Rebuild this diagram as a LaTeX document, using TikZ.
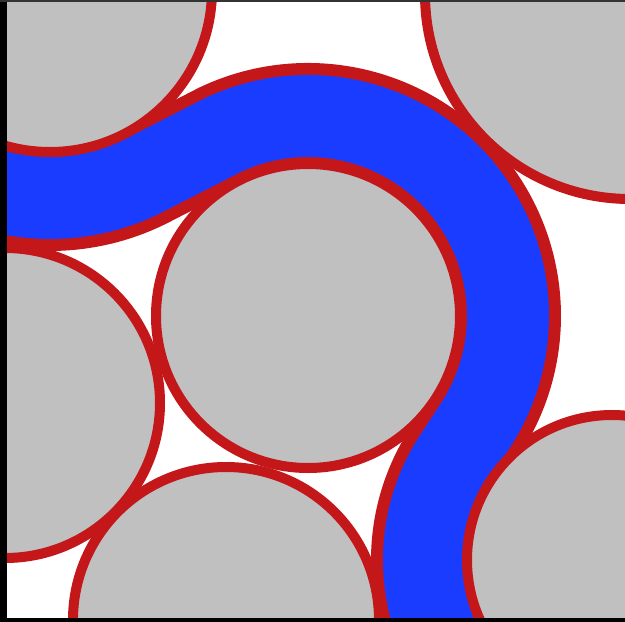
\documentclass[tikz,border=0pt]{standalone}
\usepackage{tikz}
\usetikzlibrary{calc}
\definecolor{grain}{HTML}{C0C0C0}
\definecolor{rim}{HTML}{C4171A}
\definecolor{flow}{HTML}{1A3CFF}
\begin{document}
\begin{tikzpicture}[x=1pt,y=-1pt,grain/.style={fill=grain,draw=rim,line width=10pt},channel/.style={draw=rim,double=flow,double distance=82pt,line width=12pt}]
\useasboundingbox (0,0) rectangle (625,622);
\clip (0,0) rectangle (625,622);
\fill[white] (0,0) rectangle (625,622);
\coordinate (tl) at (50,-10);
\coordinate (mid) at (308,316);
\coordinate (lft) at (5,403);
\coordinate (bot) at (226,620);
\coordinate (tr) at (630,-6);
\coordinate (br) at (612,560);
\coordinate (t2) at ($(mid)+(244.65:200)$);
\coordinate (t4) at ($(br)+(213.25:188)$);
\draw[channel] (tl) ++(112:208) arc[start angle=112,end angle=62.7,radius=208] -- (t2) arc[start angle=244.65,end angle=393.25,radius=200] -- (t4) arc[start angle=213.25,end angle=150,radius=188];
\draw[grain] (tl) circle[radius=162];
\draw[grain] (mid) circle[radius=152];
\draw[grain] (lft) circle[radius=155];
\draw[grain] (bot) circle[radius=153];
\draw[grain] (tr) circle[radius=205];
\draw[grain] (br) circle[radius=145];
\fill[black] (0,0) rectangle (7,622);
\fill[black!80] (0,0) rectangle (625,2);
\fill[black] (0,618) rectangle (625,622);
\end{tikzpicture}
\end{document}
